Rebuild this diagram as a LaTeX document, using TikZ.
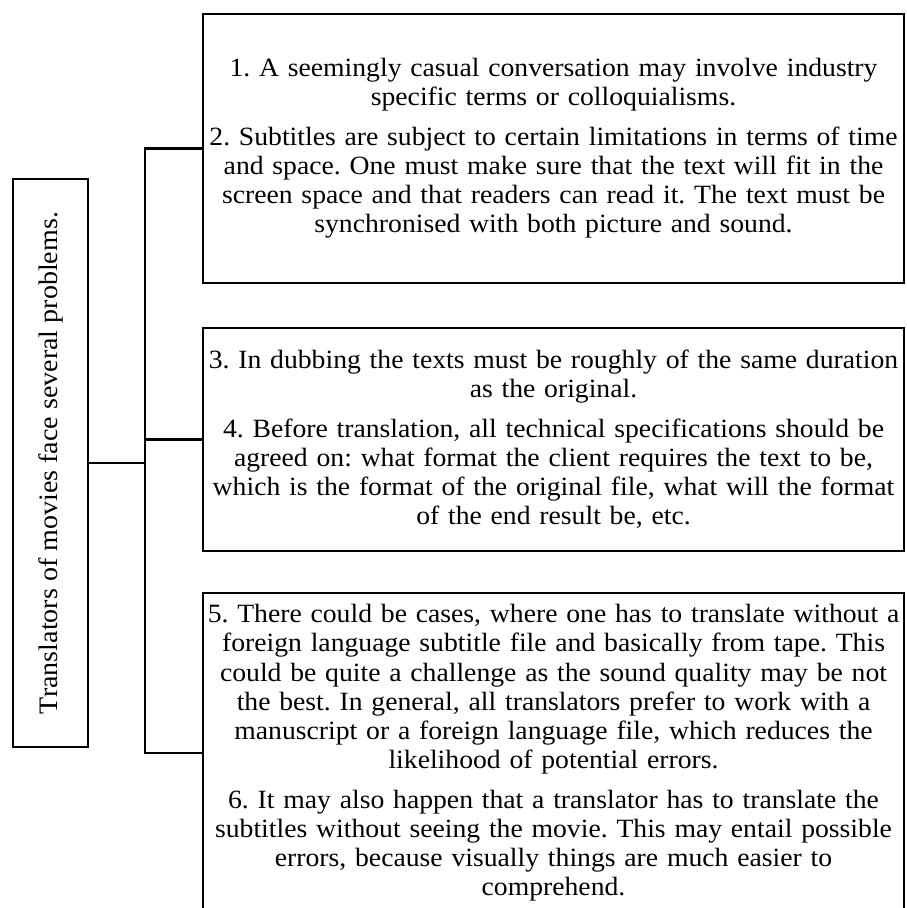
\documentclass[tikz,border=0pt]{standalone}
\usepackage{fontspec}
\setmainfont{Liberation Serif}[FakeStretch=1.05]
\usetikzlibrary{positioning,calc}
\tikzset{
    problem box/.style={
        draw, line width=1.6pt, black,
        minimum width=14.02cm,
        text width=13.95cm, inner xsep=0.03cm,
        align=center,
        font=\fontsize{15}{16.6}\selectfont
    },
    root box/.style={
        draw, line width=1.6pt, black,
        rotate=90,
        minimum width=11.36cm, minimum height=1.5cm,
        font=\fontsize{15.2}{16.6}\selectfont
    },
    link/.style={
        line width=1.6pt, black
    }
}
\newcommand{\itemgap}{\par\vspace{6pt}}

\begin{document}
\frenchspacing
\begin{tikzpicture}
                \useasboundingbox (0,0) rectangle (18.14,-18.16);
                \clip (0,0) rectangle (18.14,-18.16);
                \coordinate (bus) at (2.9, 0);
                % the question on the left
                \node[root box] (root) at (1.01, -9.26) {Translators of movies face several problems.};
                % the three groups of problems
                \node[problem box, minimum height=5.38cm] (box1) at (11.07, -2.97) {%
                    1. A seemingly casual conversation may involve industry\\
                    specific terms or colloquialisms.\itemgap
                    2. Subtitles are subject to certain limitations in terms of time\\
                    and space. One must make sure that the text will fit in the\\
                    screen space and that readers can read it. The text must be\\
                    synchronised with both picture and sound.};
                \node[problem box, minimum height=4.46cm] (box2) at (11.07, -8.79) {%
                    3. In dubbing the texts must be roughly of the same duration\\
                    as the original.\itemgap
                    4. Before translation, all technical specifications should be\\
                    agreed on: what format the client requires the text to be,\\
                    which is the format of the original file, what will the format\\
                    of the end result be, etc.};
                \node[problem box, minimum height=6.4cm] (box3) at (11.07, -15.06) {%
                    5. There could be cases, where one has to translate without a\\
                    foreign language subtitle file and basically from tape. This\\
                    could be quite a challenge as the sound quality may be not\\
                    the best. In general, all translators prefer to work with a\\
                    manuscript or a foreign language file, which reduces the\\
                    likelihood of potential errors.\itemgap
                    6. It may also happen that a translator has to translate the\\
                    subtitles without seeing the movie. This may entail possible\\
                    errors, because visually things are much easier to\\
                    comprehend.};
                % connectors
                \draw[link] (root.south) -- (root.south -| bus);
                \draw[link] (box1.west) -| (box3.west -| bus) -- (box3.west);
                \draw[link] (box2.west) -- (box2.west -| bus);
            \end{tikzpicture}
\end{document}
